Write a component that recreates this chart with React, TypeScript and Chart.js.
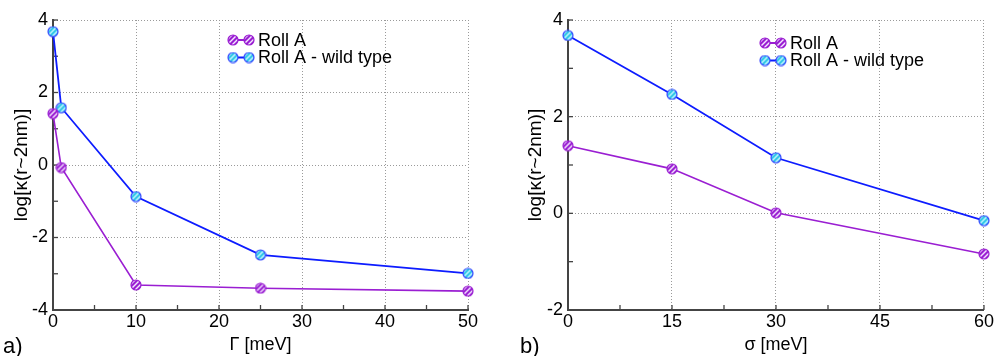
import React, { useEffect, useRef } from "react";
import { Chart, registerables } from "chart.js";

Chart.register(...registerables);

// Panel a data
const gammaX = [0, 1, 10, 25, 50];
const rollA_a = [1.42, -0.07, -3.31, -3.4, -3.48];
const wild_a = [3.68, 1.58, -0.87, -2.48, -2.99];

// Panel b data
const sigmaX = [0, 15, 30, 60];
const rollA_b = [1.4, 0.92, 0.01, -0.84];
const wild_b = [3.68, 2.46, 1.15, -0.15];

const legendLabels = ["Roll A", "Roll A - wild type"];

const PURPLE = "#9a1ed2";
const BLUE = "#0d1cff";
const FONT = "'Liberation Sans', Arial, Helvetica, sans-serif";

function makeMarker(fill: string, stroke: string, stripe: string): HTMLCanvasElement {
  const s = 12;
  const c = document.createElement("canvas");
  c.width = s;
  c.height = s;
  const ctx = c.getContext("2d")!;
  const r = 5;
  ctx.beginPath();
  ctx.arc(s / 2, s / 2, r, 0, Math.PI * 2);
  ctx.fillStyle = fill;
  ctx.fill();
  ctx.save();
  ctx.beginPath();
  ctx.arc(s / 2, s / 2, r, 0, Math.PI * 2);
  ctx.clip();
  ctx.strokeStyle = stripe;
  ctx.lineWidth = 1.4;
  for (let k = -6; k <= 6; k += 5) {
    ctx.beginPath();
    ctx.moveTo(s / 2 + k - 8, s / 2 + 8);
    ctx.lineTo(s / 2 + k + 8, s / 2 - 8);
    ctx.stroke();
  }
  ctx.restore();
  ctx.beginPath();
  ctx.arc(s / 2, s / 2, r, 0, Math.PI * 2);
  ctx.strokeStyle = stroke;
  ctx.lineWidth = 1.2;
  ctx.stroke();
  return c;
}

type PanelCfg = {
  xs: number[];
  purple: number[];
  blue: number[];
  xMin: number;
  xMax: number;
  xStep: number;
  xMajor: number;
  yMin: number;
  yMax: number;
  xTitle: string;
  yAxisWidth: number;
  yTitlePad: number;
  padRight: number;
  legendX: number;
  legendY: number;
  panelLabel: string;
  panelLabelX: number;
};

function Panel({ cfg, width }: { cfg: PanelCfg; width: number }) {
  const ref = useRef<HTMLCanvasElement | null>(null);
  useEffect(() => {
    if (!ref.current) return;
    const mPurple = makeMarker(PURPLE, PURPLE, "#f4e6ff");
    const mBlue = makeMarker("#2cc6e6", "#3448ff", "#c8f6ff");

    const innerTicks = {
      id: "innerTicks",
      beforeDatasetsDraw(chart: any) {
        const ctx = chart.ctx;
        const ca = chart.chartArea;
        ctx.save();
        ctx.strokeStyle = "#444";
        ctx.lineWidth = 1.3;
        const xs = chart.scales.x;
        xs.ticks.forEach((t: any) => {
          const px = xs.getPixelForValue(t.value);
          ctx.beginPath();
          ctx.moveTo(px, ca.bottom);
          ctx.lineTo(px, ca.bottom - 5);
          ctx.stroke();
        });
        const ys = chart.scales.y;
        ys.ticks.forEach((t: any) => {
          const py = ys.getPixelForValue(t.value);
          ctx.beginPath();
          ctx.moveTo(ca.left, py);
          ctx.lineTo(ca.left + 5, py);
          ctx.stroke();
        });
        ctx.restore();
      },
      afterDraw(chart: any) {
        const ctx = chart.ctx;
        ctx.save();
        // legend
        const markers = [mPurple, mBlue];
        const colors = [PURPLE, BLUE];
        ctx.font = `18px ${FONT}`;
        ctx.textBaseline = "middle";
        ctx.fillStyle = "#000";
        for (let i = 0; i < 2; i++) {
          const y = cfg.legendY + i * 17.5;
          const x0 = cfg.legendX;
          ctx.strokeStyle = colors[i];
          ctx.lineWidth = 2;
          ctx.beginPath();
          ctx.moveTo(x0 + 5, y);
          ctx.lineTo(x0 + 21, y);
          ctx.stroke();
          ctx.drawImage(markers[i], x0 - 1, y - 6);
          ctx.drawImage(markers[i], x0 + 15, y - 6);
          ctx.fillStyle = "#000";
          ctx.fillText(legendLabels[i], x0 + 30, y + 1);
        }
        // panel label
        ctx.font = `22px ${FONT}`;
        ctx.textBaseline = "alphabetic";
        ctx.fillText(cfg.panelLabel, cfg.panelLabelX, 353);
        ctx.restore();
      },
    };

    const isMaj = (v: number, m: number) => Math.abs(v / m - Math.round(v / m)) < 1e-6;

    const chart = new Chart(ref.current, {
      type: "line",
      data: {
        datasets: [
          {
            label: legendLabels[0],
            data: cfg.xs.map((x, i) => ({ x, y: cfg.purple[i] })),
            borderColor: PURPLE,
            borderWidth: 1.6,
            pointStyle: mPurple as any,
            pointRadius: 5,
            clip: false as any,
          },
          {
            label: legendLabels[1],
            data: cfg.xs.map((x, i) => ({ x, y: cfg.blue[i] })),
            borderColor: BLUE,
            borderWidth: 1.8,
            pointStyle: mBlue as any,
            pointRadius: 5,
            clip: false as any,
          },
        ],
      },
      options: {
        animation: false,
        responsive: false,
        layout: { padding: { top: 20, right: cfg.padRight, left: 0, bottom: 0 } },
        plugins: { legend: { display: false }, tooltip: { enabled: false } },
        scales: {
          x: {
            type: "linear",
            min: cfg.xMin,
            max: cfg.xMax,
            afterBuildTicks: (s: any) => {
              const arr = [];
              for (let v = cfg.xMin; v <= cfg.xMax + 1e-9; v += cfg.xStep) arr.push({ value: v });
              s.ticks = arr;
            },
            afterFit: (s: any) => {
              s.height = 46;
            },
            ticks: {
              autoSkip: false,
              maxRotation: 0,
              padding: 1,
              color: "#000",
              font: { family: FONT, size: 18 },
              callback: (v: any) => (isMaj(Number(v), cfg.xMajor) ? String(v) : ""),
            },
            grid: {
              drawTicks: false,
              lineWidth: 1,
              color: (c: any) => {
                const v = c.tick ? c.tick.value : 0;
                return isMaj(v, cfg.xMajor) ? "#9a9a9a" : "rgba(0,0,0,0)";
              },
            },
            border: { display: true, color: "#444", width: 2, dash: [1, 2] },
            title: {
              display: true,
              text: cfg.xTitle,
              color: "#000",
              font: { family: FONT, size: 18 },
              padding: { top: 1, bottom: 0 },
            },
          },
          y: {
            type: "linear",
            min: cfg.yMin,
            max: cfg.yMax,
            afterBuildTicks: (s: any) => {
              const arr = [];
              for (let v = cfg.yMin; v <= cfg.yMax; v += 1) arr.push({ value: v });
              s.ticks = arr;
            },
            afterFit: (s: any) => {
              s.width = cfg.yAxisWidth;
            },
            ticks: {
              autoSkip: false,
              padding: 5,
              color: "#000",
              font: { family: FONT, size: 18 },
              callback: (v: any) => (Number(v) % 2 === 0 ? String(v) : ""),
            },
            grid: {
              drawTicks: false,
              lineWidth: 1,
              color: (c: any) => {
                const v = c.tick ? c.tick.value : 1;
                return v % 2 === 0 ? "#9a9a9a" : "rgba(0,0,0,0)";
              },
            },
            border: { display: true, color: "#444", width: 2, dash: [1, 2] },
            title: {
              display: true,
              text: "log[κ(r~2nm)]",
              color: "#000",
              font: { family: FONT, size: 19 },
              padding: { top: cfg.yTitlePad, bottom: 0 },
            },
          },
        },
      },
      plugins: [innerTicks],
    } as any);
    return () => chart.destroy();
  }, [cfg]);
  return <canvas ref={ref} width={width} height={356} style={{ display: "block" }} />;
}

const panelA: PanelCfg = {
  xs: gammaX,
  purple: rollA_a,
  blue: wild_a,
  xMin: 0,
  xMax: 50,
  xStep: 5,
  xMajor: 10,
  yMin: -4,
  yMax: 4,
  xTitle: "Γ [meV]",
  yAxisWidth: 53,
  yTitlePad: 10,
  padRight: 29,
  legendX: 228,
  legendY: 40,
  panelLabel: "a)",
  panelLabelX: 3,
};

const panelB: PanelCfg = {
  xs: sigmaX,
  purple: rollA_b,
  blue: wild_b,
  xMin: 0,
  xMax: 60,
  xStep: 7.5,
  xMajor: 15,
  yMin: -2,
  yMax: 4,
  xTitle: "σ [meV]",
  yAxisWidth: 71,
  yTitlePad: 27,
  padRight: 11,
  legendX: 263,
  legendY: 43,
  panelLabel: "b)",
  panelLabelX: 23,
};

export default function App() {
  return (
    <div style={{ position: "fixed", left: 0, top: 0, width: 995, height: 356, background: "#fff", display: "flex" }}>
      <Panel cfg={panelA} width={497} />
      <Panel cfg={panelB} width={498} />
    </div>
  );
}
